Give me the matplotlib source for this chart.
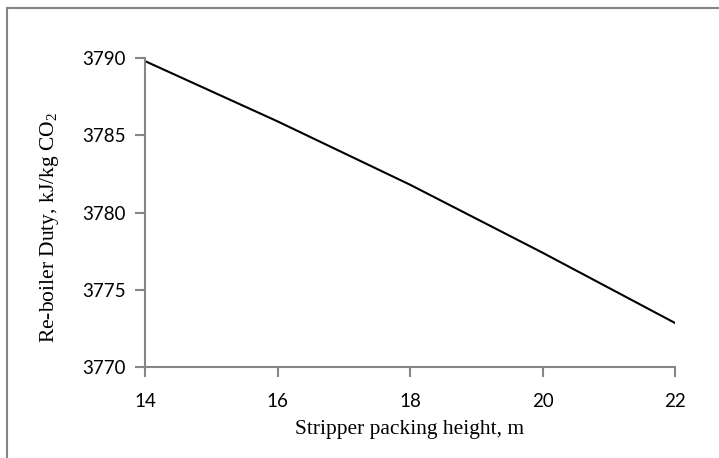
import numpy as np
import matplotlib
matplotlib.use('Agg')
from matplotlib import pyplot as plt
from matplotlib.patches import Rectangle

# data
height = [14, 16, 18, 20, 22]
duty = [3789.8, 3785.9, 3781.8, 3777.4, 3772.85]
xticks = [14, 16, 18, 20, 22]
yticks = [3770, 3775, 3780, 3785, 3790]

plt.rcParams['mathtext.fontset'] = 'custom'
plt.rcParams['mathtext.rm'] = 'Liberation Serif'

fig = plt.figure(figsize=(7.19, 4.58), dpi=100)
ax = fig.add_axes([145/719, 1-367/458, (675-145)/719, (367-58)/458])

ax.plot(height, duty, color='black', lw=1.5)

ax.set_xlim(14, 22)
ax.set_ylim(3770, 3790)
ax.set_xticks(xticks)
ax.set_yticks(yticks)

grey = '#868686'
for s in ['top', 'right']:
    ax.spines[s].set_visible(False)
for s in ['left', 'bottom']:
    ax.spines[s].set_color(grey)
    ax.spines[s].set_linewidth(1.5)
ax.tick_params(direction='out', length=7, width=1.5, color=grey, labelsize=13.5)
ax.tick_params(axis='x', pad=12)
ax.tick_params(axis='y', pad=7)
for lab in ax.get_xticklabels() + ax.get_yticklabels():
    lab.set_fontfamily('Lato')

ax.set_xlabel('Stripper packing height, m', family='Liberation Serif', fontsize=15.5, labelpad=7)
ax.set_ylabel(r'Re-boiler Duty, kJ/kg CO$_2$', family='Liberation Serif', fontsize=15.5)
ax.yaxis.set_label_coords(-0.158, 0.45)

# chart frame, only top and left edges visible
fig.patches.append(Rectangle((7/719, -0.1), 1.2, 1-8/458+0.1, transform=fig.transFigure,
                             fill=False, edgecolor=grey, lw=1.5))

plt.savefig('out.png', dpi=100)
